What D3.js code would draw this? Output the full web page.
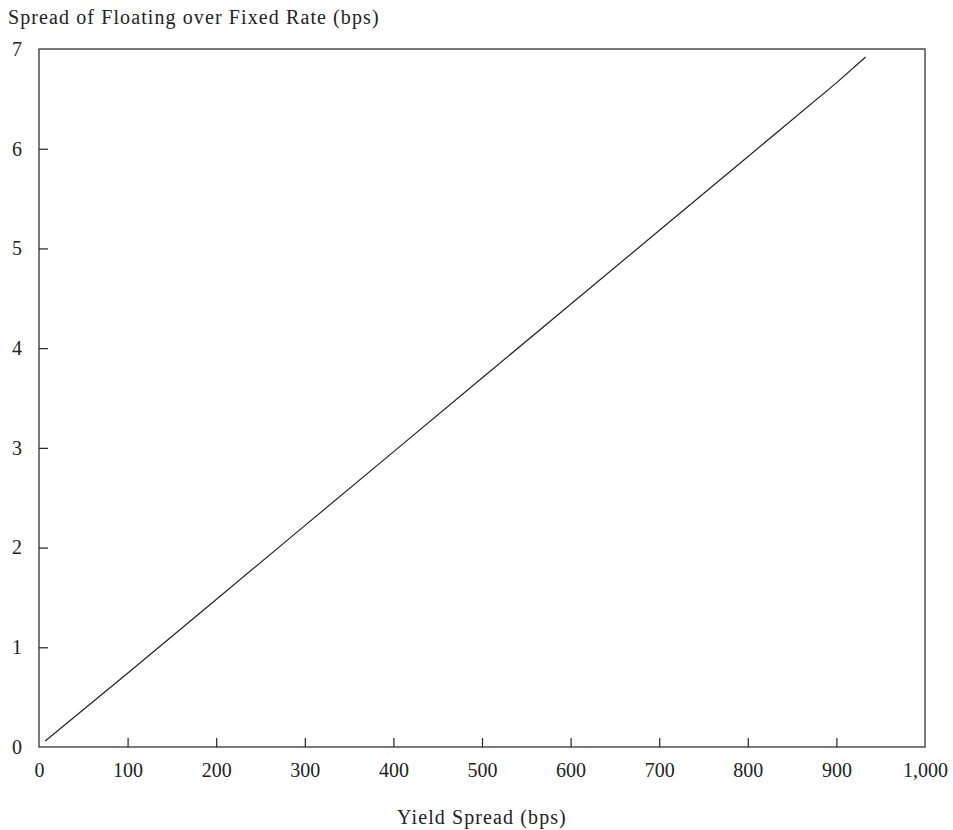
<!DOCTYPE html>
<html>
<head>
<meta charset="utf-8">
<script src="https://cdn.jsdelivr.net/npm/d3@7"></script>
<style>
  body { margin: 0; background: #fff; }
  svg text { font-family: "Liberation Serif", "DejaVu Serif", serif; fill: #222; }
</style>
</head>
<body>
<svg width="953" height="830"></svg>
<script>
// yield spread (bps) vs spread of floating over fixed rate (bps)
let yieldSpread = [7, 100, 200, 300, 400, 500, 600, 700, 800, 900, 933];
let floatSpread = [0.06, 0.74, 1.48, 2.22, 2.96, 3.70, 4.44, 5.18, 5.92, 6.66, 6.92];
let xTicks = [0, 100, 200, 300, 400, 500, 600, 700, 800, 900, 1000];
let yTicks = [0, 1, 2, 3, 4, 5, 6, 7];

let margin = { left: 39, right: 28, top: 49, bottom: 83 };
let width = 953, height = 830;

let svg = d3.select("svg");

let x = d3.scaleLinear()
    .domain([0, 1000])
    .range([margin.left, width - margin.right]);

let y = d3.scaleLinear()
    .domain([0, 7])
    .range([height - margin.bottom, margin.top]);

// frame
svg.append("rect")
    .attr("x", x(0))
    .attr("y", y(7))
    .attr("width", x(1000) - x(0))
    .attr("height", y(0) - y(7))
    .attr("fill", "none")
    .attr("stroke", "#222")
    .attr("stroke-width", 1.2);

let xAxis = svg.append("g")
    .attr("transform", `translate(0, ${y(0)})`)
    .call(d3.axisBottom(x)
      .tickValues(xTicks)
      .tickSize(-9)
      .tickPadding(16)
      .tickFormat(d3.format(",")));

let yAxis = svg.append("g")
    .attr("transform", `translate(${x(0)}, 0)`)
    .call(d3.axisLeft(y)
      .tickValues(yTicks)
      .tickSize(-9)
      .tickPadding(17)
      .tickFormat(d3.format("d")));

[xAxis, yAxis].forEach((g) => {
  g.attr("font-size", 20).attr("font-family", null);
  g.select(".domain").remove();
  g.selectAll("line").attr("stroke", "#222").attr("stroke-width", 1.2);
  g.selectAll("text").attr("fill", "#222");
});
// hide the end ticks that sit on the frame
xAxis.selectAll(".tick line").filter((d) => d === 0 || d === 1000).remove();
yAxis.selectAll(".tick line").filter((d) => d === 0 || d === 7).remove();

let line = d3.line()
    .x((d, i) => x(yieldSpread[i]))
    .y((d) => y(d));

svg.append("path")
    .datum(floatSpread)
    .attr("d", line)
    .attr("fill", "none")
    .attr("stroke", "#222")
    .attr("stroke-width", 1.2);

svg.append("text")
    .attr("x", 8)
    .attr("y", 24)
    .attr("font-size", 20)
    .attr("letter-spacing", 1.1)
    .text("Spread of Floating over Fixed Rate (bps)");

svg.append("text")
    .attr("x", (x(0) + x(1000)) / 2)
    .attr("y", 824)
    .attr("text-anchor", "middle")
    .attr("font-size", 20)
    .attr("letter-spacing", 1.1)
    .text("Yield Spread (bps)");
</script>
</body>
</html>
